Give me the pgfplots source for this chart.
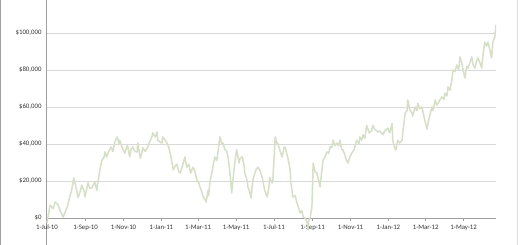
\documentclass[border=0pt]{standalone}
\usepackage{fontspec}
\setmainfont{Carlito}
\usepackage{pgfplots}
\pgfplotsset{compat=1.18}
\definecolor{linegreen}{RGB}{214,223,199}
\definecolor{gridgray}{RGB}{217,217,217}
\definecolor{axisgray}{RGB}{160,160,160}
\definecolor{txt}{RGB}{50,50,50}
\begin{document}
\begin{tikzpicture}[x=1pt,y=1pt]
\useasboundingbox (0,0) rectangle (520,245);
\fill[white] (0,0) rectangle (520,245);
\draw[axisgray, line width=1.2pt] (0.6,0) -- (0.6,245);
\draw[black!12, line width=0.8pt] (517.5,0) -- (517.5,245);
\begin{axis}[
  at={(46pt,0pt)}, anchor=south west,
  scale only axis, width=450pt, height=245pt,
  xmin=-1.6, xmax=722, ymin=-14600, ymax=117800,
  axis x line*=middle, axis y line*=left,
  axis line style={-, draw=axisgray, line width=0.8pt},
  scaled x ticks=false, scaled y ticks=false,
  xtick={0,62,123,184,243,304,365,427,488,549,609,670},
  xticklabels={1-Jul-10,1-Sep-10,1-Nov-10,1-Jan-11,1-Mar-11,1-May-11,1-Jul-11,1-Sep-11,1-Nov-11,1-Jan-12,1-Mar-12,1-May-12},
  ytick={0,20000,40000,60000,80000,100000},
  yticklabels={\$0,{\$20,000},{\$40,000},{\$60,000},{\$80,000},{\$100,000}},
  tick label style={font=\fontsize{6.8}{8}\selectfont, text=txt},
  /pgf/number format/assume math mode=true,
  xtick align=outside, major tick length=3pt,
  xtick style={draw=axisgray, line width=0.6pt},
  ytick style={draw=none},
  yticklabel style={xshift=-1pt},
  xticklabel style={yshift=-0.5pt},
  ymajorgrids, grid style={draw=gridgray, line width=0.8pt},
  clip=true,
]
\addplot[linegreen, line width=1.5pt, line join=round, no markers] coordinates {
(0,-2700)(5,7000)(10,5000)(13,8600)(18,7000)(21,4000)(24,2000)(26,500)(29,3000)(32,5500)(34,8000)(37,12000)(39,14000)(42,19500)(43,21600)(47,16000)(50,11000)(53,14000)(56,17800)(60,14000)(61,11400)(64,16000)(66,19000)(69,16000)(72,16300)(76,19000)(77,19500)(80,15000)(84,24000)(88,31000)(92,33000)(93,35700)(96,33000)(98,35000)(103,38400)(106,36000)(109,41000)(113,43800)(116,40000)(117,42000)(121,37800)(124,36000)(125,35000)(129,39000)(130,38400)(133,33000)(135,37000)(138,38400)(141,36000)(145,35700)(146,40500)(150,32400)(153,36000)(154,38000)(158,36000)(162,38400)(166,42000)(169,44000)(170,46000)(174,43800)(177,46500)(178,42000)(182,41000)(185,40500)(186,43800)(190,42000)(193,40500)(196,38000)(198,35000)(201,30000)(203,26000)(206,28000)(209,29000)(212,25000)(214,24300)(217,27000)(219,29700)(222,33000)(223,30000)(225,27500)(228,29000)(231,24300)(235,27500)(238,25000)(241,20500)(244,19000)(246,16800)(249,14000)(251,11400)(254,10000)(256,8600)(259,15000)(260,12000)(262,19500)(265,24300)(268,30000)(270,33000)(273,31000)(275,35700)(278,43800)(281,40000)(283,40500)(286,37000)(289,36000)(291,33000)(294,25000)(296,18000)(297,13500)(299,20500)(302,30000)(305,36800)(309,29700)(310,32000)(314,33000)(317,28000)(318,24300)(322,20000)(323,16800)(326,14000)(328,10800)(331,20500)(334,24000)(336,26000)(339,27500)(342,26000)(346,22000)(347,20500)(350,15000)(354,11400)(357,17000)(358,22000)(362,19000)(363,19500)(367,43800)(370,40000)(371,40500)(375,36000)(378,33000)(381,38000)(383,38400)(386,34000)(387,33000)(391,26000)(392,19000)(394,15000)(395,11400)(399,12000)(402,8100)(405,5000)(407,2700)(410,4000)(412,500)(415,0)(418,-2200)(420,-6500)(421,-1000)(423,0)(424,2000)(426,6000)(428,29700)(431,25000)(434,24300)(437,20000)(439,16800)(440,20000)(444,31400)(447,33000)(450,35700)(453,35000)(455,38400)(458,38000)(460,42000)(463,39000)(466,40500)(469,39000)(471,42000)(474,37000)(476,36800)(479,34000)(482,31000)(484,29700)(487,33000)(490,35000)(494,37000)(498,42000)(502,40000)(503,43800)(506,42000)(508,45000)(511,43000)(514,50000)(518,46000)(519,46500)(522,47000)(524,50000)(527,48000)(532,46500)(535,47000)(540,45000)(543,47000)(548,48600)(551,46000)(555,51000)(556,42000)(559,38000)(561,36800)(564,42000)(567,40500)(571,42000)(572,46000)(576,56700)(579,58000)(580,63800)(584,58000)(587,56700)(588,55000)(592,60000)(595,58000)(596,62000)(600,59000)(603,60000)(606,55000)(608,52000)(611,48000)(613,51900)(616,56000)(619,60000)(621,58000)(624,63800)(627,61000)(629,62000)(632,64000)(635,65400)(638,64000)(640,67500)(643,66000)(645,70800)(648,69000)(651,74600)(653,80000)(656,79000)(659,82700)(662,80000)(664,87000)(667,83800)(669,80000)(672,75700)(675,82000)(677,81000)(680,84000)(683,87000)(685,83000)(688,81000)(691,85000)(693,86500)(696,84000)(699,81000)(701,88000)(704,95000)(707,93000)(709,95000)(712,91000)(715,86500)(717,95000)(720,97800)(722,104300)
};
\end{axis}
\end{tikzpicture}
\end{document}
